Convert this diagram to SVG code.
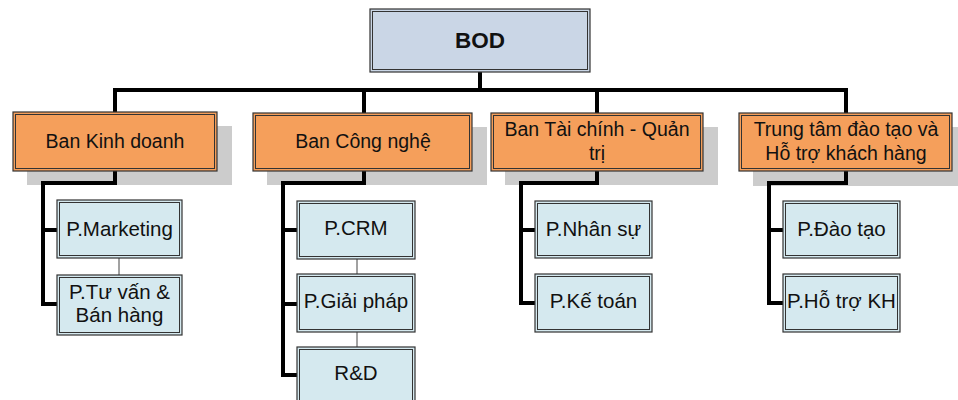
<svg xmlns="http://www.w3.org/2000/svg" width="958" height="400" viewBox="0 0 958 400">
<style>
.sh{fill:#cccccc;stroke:none}
.o{stroke:#333;stroke-width:1.2}
.in{fill:none;stroke:#333;stroke-width:1}
.bod{fill:#cad6e6}
.ban{fill:#f59f5b}
.p{fill:#d5e9ef}
.thick{fill:none;stroke:#000;stroke-width:4;stroke-linejoin:miter}
.thin{fill:none;stroke:#444;stroke-width:1}
text{font-family:"Liberation Sans",Arial,sans-serif;font-size:20.5px;fill:#111;text-anchor:middle}
.t{font-size:19.5px}
.b{font-weight:bold;font-size:22.5px}
</style>
<rect width="958" height="400" fill="#fff"/>
<g id="shadows">
<rect class="sh" x="27" y="126" width="205" height="59"/>
<rect class="sh" x="267" y="127" width="220" height="58"/>
<rect class="sh" x="505" y="127" width="213" height="58"/>
<rect class="sh" x="753" y="127" width="205" height="59"/>
</g>
<g id="connectors">
<polyline class="thick" points="480,72 480,90"/>
<polyline class="thick" points="115,112 115,90 846,90 846,113"/>
<polyline class="thick" points="364,90 364,113"/>
<polyline class="thick" points="597,90 597,113"/>
<polyline class="thick" points="115,171 115,183 43,183 43,304 57,304"/>
<polyline class="thick" points="43,230 57,230"/>
<polyline class="thick" points="364,171 364,183 283,183 283,375 297,375"/>
<polyline class="thick" points="283,230 297,230"/>
<polyline class="thick" points="283,304 297,304"/>
<polyline class="thick" points="597,171 597,183 521,183 521,303 535,303"/>
<polyline class="thick" points="521,230 535,230"/>
<polyline class="thick" points="846,171 846,183 769,183 769,303 783,303"/>
<polyline class="thick" points="769,230 783,230"/>
<line class="thin" x1="119" y1="258" x2="119" y2="275"/>
<line class="thin" x1="357" y1="259" x2="357" y2="274"/>
<line class="thin" x1="357" y1="332" x2="357" y2="347"/>
</g>
<g id="bod">
<rect class="o bod" x="370" y="9" width="220" height="63"/>
<rect class="in" x="372.5" y="11.5" width="215" height="58"/>
<text class="b" x="480" y="48">BOD</text>
</g>
<g id="ban-kinh-doanh">
<rect class="o ban" x="13" y="112" width="204" height="59"/>
<rect class="in" x="15.5" y="114.5" width="199" height="54"/>
<text class="t" x="115" y="148">Ban Kinh doanh</text>
</g>
<g id="ban-cong-nghe">
<rect class="o ban" x="253" y="113" width="219" height="58"/>
<rect class="in" x="255.5" y="115.5" width="214" height="53"/>
<text class="t" x="363" y="148">Ban Công nghệ</text>
</g>
<g id="ban-tai-chinh">
<rect class="o ban" x="491" y="113" width="212" height="58"/>
<rect class="in" x="493.5" y="115.5" width="207" height="53"/>
<text class="t" x="597" y="136">Ban Tài chính - Quản</text>
<text class="t" x="597" y="160">trị</text>
</g>
<g id="trung-tam">
<rect class="o ban" x="739" y="113" width="213" height="58"/>
<rect class="in" x="741.5" y="115.5" width="208" height="53"/>
<text class="t" x="846" y="136">Trung tâm đào tạo và</text>
<text class="t" x="846" y="160">Hỗ trợ khách hàng</text>
</g>
<g id="p-marketing">
<rect class="o p" x="57" y="200" width="125" height="58"/>
<rect class="in" x="59.5" y="202.5" width="120" height="53"/>
<text x="119.5" y="236">P.Marketing</text>
</g>
<g id="p-tu-van">
<rect class="o p" x="57" y="275" width="125" height="60"/>
<rect class="in" x="59.5" y="277.5" width="120" height="55"/>
<text x="119.5" y="299">P.Tư vấn &amp;</text>
<text x="119.5" y="322">Bán hàng</text>
</g>
<g id="p-crm">
<rect class="o p" x="297" y="201" width="118" height="58"/>
<rect class="in" x="299.5" y="203.5" width="113" height="53"/>
<text x="356" y="235">P.CRM</text>
</g>
<g id="p-giai-phap">
<rect class="o p" x="297" y="274" width="118" height="58"/>
<rect class="in" x="299.5" y="276.5" width="113" height="53"/>
<text x="356" y="308">P.Giải pháp</text>
</g>
<g id="r-d">
<rect class="o p" x="297" y="347" width="118" height="60"/>
<rect class="in" x="299.5" y="349.5" width="113" height="55"/>
<text x="356" y="380">R&amp;D</text>
</g>
<g id="p-nhan-su">
<rect class="o p" x="535" y="201" width="117" height="57"/>
<rect class="in" x="537.5" y="203.5" width="112" height="52"/>
<text x="593.5" y="236">P.Nhân sự</text>
</g>
<g id="p-ke-toan">
<rect class="o p" x="535" y="274" width="117" height="58"/>
<rect class="in" x="537.5" y="276.5" width="112" height="53"/>
<text x="593.5" y="308">P.Kế toán</text>
</g>
<g id="p-dao-tao">
<rect class="o p" x="783" y="201" width="117" height="57"/>
<rect class="in" x="785.5" y="203.5" width="112" height="52"/>
<text x="841.5" y="236">P.Đào tạo</text>
</g>
<g id="p-ho-tro">
<rect class="o p" x="783" y="274" width="117" height="58"/>
<rect class="in" x="785.5" y="276.5" width="112" height="53"/>
<text x="841.5" y="308">P.Hỗ trợ KH</text>
</g>
</svg>
